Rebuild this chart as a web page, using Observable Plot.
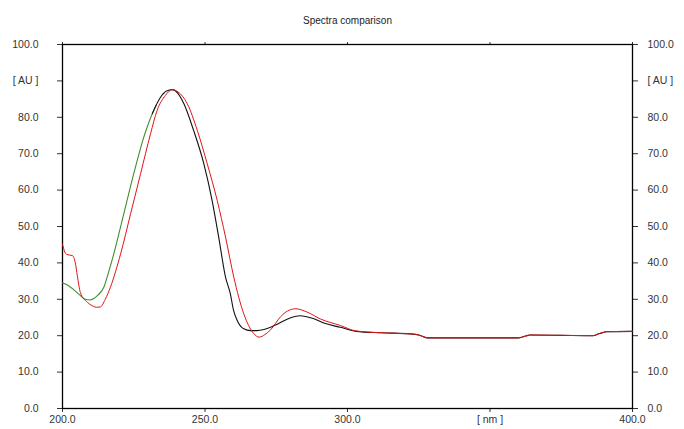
<!DOCTYPE html>
<html><head><meta charset="utf-8">
<script src="https://cdn.jsdelivr.net/npm/d3@7"></script>
<script src="https://cdn.jsdelivr.net/npm/@observablehq/plot@0.6"></script>
<style>body{margin:0;background:#fff} svg{display:block}</style>
</head><body><div id="chart"></div>
<script>
// Series: wavelength (nm) and absorbance (AU)
const greenNm = [200, 201, 202, 204, 206, 208, 209.5, 211, 212.5, 214.5, 216, 218, 221.5, 225, 228.5, 231.5, 233];
const greenAU = [34.5, 34.2, 33.8, 32.6, 31.2, 30.0, 29.8, 30.2, 31.2, 33.3, 37.0, 42.5, 53.5, 64.5, 74.5, 81.0, 83.5];

const blackNm = [231.5, 234.4, 236.5, 238.5, 240.5, 242.6, 246, 249.6, 252.5, 254.8, 257.2, 258.9, 260, 261.3, 263.6, 266, 268.3, 273, 276, 279, 283.5, 288, 292, 297.5, 303, 312, 322, 325, 328, 340, 360, 362.5, 364, 375, 386, 388.5, 391, 400];
const blackAU = [81.0, 85.5, 87.2, 87.6, 86.6, 83.7, 76.4, 67.2, 57.1, 47.1, 36.1, 31.5, 27.0, 24.2, 21.9, 21.4, 21.4, 22.3, 23.4, 24.6, 25.5, 24.7, 23.4, 22.3, 21.2, 20.8, 20.5, 20.2, 19.4, 19.4, 19.4, 19.9, 20.2, 20.1, 20.0, 20.6, 21.1, 21.2];

const redNm = [200, 200.8, 201.5, 203.5, 204.5, 205.2, 206.3, 208.7, 210.5, 212, 213.3, 215, 216.8, 220.4, 223.9, 227.4, 230.9, 233.2, 236.1, 238.5, 240.5, 243.8, 247.3, 250.8, 254.3, 257.2, 260.1, 263.6, 265.3, 267.1, 269, 271, 273, 276.5, 279, 281.8, 285.8, 290.5, 297.5, 303, 312, 322, 325, 328, 340, 360, 362.5, 364, 375, 386, 388.5, 391, 400];
const redAU = [45.2, 43.0, 42.3, 42.0, 40.0, 36.5, 31.8, 29.2, 28.2, 27.8, 27.9, 30.0, 33.3, 42.5, 53.5, 64.5, 75.5, 81.9, 86.0, 87.6, 87.0, 83.7, 76.4, 67.2, 57.1, 47.1, 36.1, 26.0, 22.8, 20.6, 19.6, 20.3, 21.6, 25.2, 26.8, 27.4, 26.5, 24.6, 22.8, 21.3, 20.8, 20.5, 20.2, 19.4, 19.4, 19.4, 19.9, 20.2, 20.1, 20.0, 20.6, 21.1, 21.2];

const yTicks = [0, 10, 20, 30, 40, 50, 60, 70, 80, 90, 100];
const xTicks = [200, 250, 300, 350, 400];
const yFmt = d => d === 90 ? "[ AU ]" : d.toFixed(1);
const xFmt = d => d === 350 ? "[ nm ]" : d.toFixed(1);

const rows = (nm, au) => nm.map((x, i) => ({nm: x, au: au[i]}));

const chart = Plot.plot({
  width: 684, height: 429,
  marginLeft: 62, marginRight: 52, marginTop: 44, marginBottom: 21,
  style: {fontFamily: "'Liberation Sans', Arial, sans-serif", fontSize: "10.5px", color: "#333", background: "#fff"},
  x: {domain: [200, 400]},
  y: {domain: [0, 100]},
  marks: [
    Plot.axisY({anchor: "left", ticks: yTicks, tickFormat: yFmt, tickSize: 5, tickPadding: 19, label: null}),
    Plot.axisY({anchor: "right", ticks: yTicks, tickFormat: yFmt, tickSize: 5, tickPadding: 10, label: null}),
    Plot.axisX({anchor: "bottom", ticks: xTicks, tickFormat: xFmt, tickSize: 4, tickPadding: 3, label: null}),
    Plot.axisX({anchor: "top", ticks: xTicks, tickFormat: () => "", tickSize: 3, label: null}),
    Plot.frame({stroke: "#000", strokeWidth: 1.3}),
    Plot.line(rows(greenNm, greenAU), {x: "nm", y: "au", stroke: "#3f8f2f", strokeWidth: 1.1, curve: "monotone-x"}),
    Plot.line(rows(blackNm, blackAU), {x: "nm", y: "au", stroke: "#111", strokeWidth: 1.1, curve: "monotone-x"}),
    Plot.line(rows(redNm, redAU), {x: "nm", y: "au", stroke: "#e01414", strokeWidth: 1, curve: "monotone-x"}),
    Plot.text(["Spectra comparison"], {frameAnchor: "top", dy: -28, fontSize: 10, fill: "#222"})
  ]
});
document.getElementById("chart").appendChild(chart);
</script>
</body></html>
